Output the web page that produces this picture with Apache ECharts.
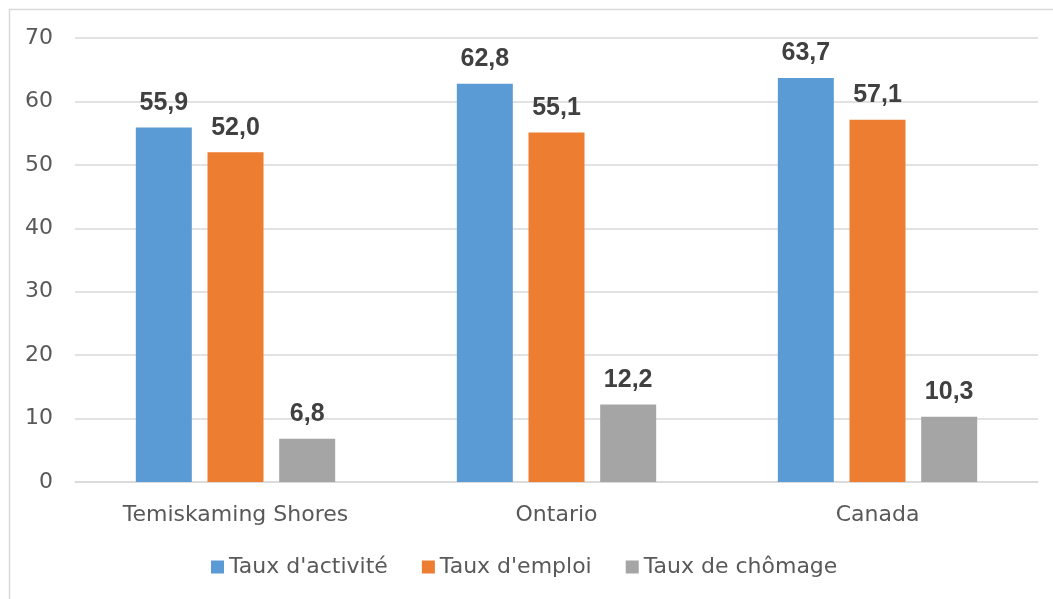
<!DOCTYPE html>
<html><head><meta charset="utf-8">
<script src="https://cdn.jsdelivr.net/npm/echarts@6/dist/echarts.min.js"></script>
<style>html,body{margin:0;padding:0;background:#fff}#c{width:1053px;height:599px}</style>
</head><body><div id="c"></div>
<script>
const categories = ['Temiskaming Shores', 'Ontario', 'Canada'];
const seriesNames = ["Taux d'activité", "Taux d'emploi", 'Taux de chômage'];
const activite = [55.9, 62.8, 63.7];
const emploi = [52.0, 55.1, 57.1];
const chomage = [6.8, 12.2, 10.3];
const yTicks = [0, 10, 20, 30, 40, 50, 60, 70];
const colors = ['#5B9BD5', '#ED7D31', '#A5A5A5'];

const chart = echarts.init(document.getElementById('c'), null, {renderer: 'canvas'});
const fmt = p => p.value.toFixed(1).replace('.', ',');
function mk(name, data, color) {
  return {
    name, type: 'bar', data, barWidth: 56, barGap: '28%',
    itemStyle: {color},
    label: {show: true, position: 'top', distance: 12, formatter: fmt,
      fontFamily: 'Liberation Sans', fontWeight: 'bold', fontSize: 25, color: '#404040'}
  };
}
chart.setOption({
  animation: false,
  graphic: [{type: 'rect', shape: {x: 9.5, y: 9.5, width: 1200, height: 800},
    style: {fill: 'none', stroke: '#d9d9d9', lineWidth: 1.5}, silent: true}],
  grid: {left: 75, right: 15, top: 38, bottom: 117},
  legend: {
    data: seriesNames, left: 206, top: 551, itemWidth: 13, itemHeight: 13, itemGap: 34,
    icon: 'rect',
    textStyle: {fontFamily: 'DejaVu Sans', fontSize: 22, color: '#595959'}
  },
  xAxis: {
    type: 'category', data: categories,
    axisLine: {lineStyle: {color: '#d9d9d9', width: 1.5}},
    axisTick: {show: false},
    axisLabel: {fontFamily: 'DejaVu Sans', fontSize: 22, color: '#595959', margin: 22}
  },
  yAxis: {
    type: 'value', min: yTicks[0], max: yTicks[yTicks.length - 1], interval: 10,
    axisLine: {show: false}, axisTick: {show: false},
    splitLine: {lineStyle: {color: '#d9d9d9', width: 1.5}},
    axisLabel: {fontFamily: 'DejaVu Sans', fontSize: 22, color: '#595959', margin: 22}
  },
  series: [mk(seriesNames[0], activite, colors[0]), mk(seriesNames[1], emploi, colors[1]), mk(seriesNames[2], chomage, colors[2])]
});
</script></body></html>
